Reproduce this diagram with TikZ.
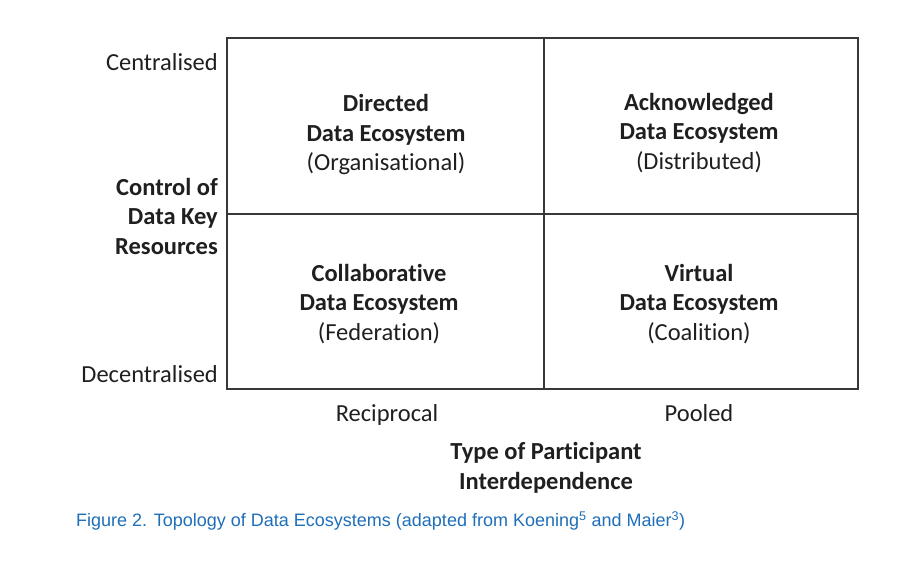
\documentclass[tikz,border=0pt]{standalone}
\usepackage{fontspec}
\setmainfont{Carlito}[Ligatures={NoCommon}]
\newfontfamily\capfont{Liberation Sans}
\begin{document}
\begin{tikzpicture}[x=1pt,y=-1pt,
  every node/.style={inner sep=0pt, text=black!88},
  lbl/.style={font=\fontsize{24.5}{29.5}\selectfont, align=center},
  side/.style={font=\fontsize{24.5}{29.5}\selectfont, anchor=east, align=right},
  grid/.style={draw=black!78, line width=1.3pt},
  caption/.style={font=\capfont\fontsize{18}{22}\selectfont, text={rgb,255:red,30;green,110;blue,185}, anchor=west}]
  \useasboundingbox (0,0) rectangle (920,564);

  % quadrant grid
  \coordinate (tl) at (227,38);
  \coordinate (br) at (858,389);
  \draw[grid] (tl) rectangle (br);
  \draw[grid] (544,38) -- (544,389);
  \draw[grid] (227,214) -- (858,214);

  % quadrant labels
  \node[lbl] (directed) at (386,135) {\textbf{Directed}\\\textbf{Data Ecosystem}\\(Organisational)};
  \node[lbl] (acknowledged) at (699,133) {\textbf{Acknowledged}\\\textbf{Data Ecosystem}\\(Distributed)};
  \node[lbl] (collaborative) at (379,304) {\textbf{Collaborative}\\\textbf{Data Ecosystem}\\(Federation)};
  \node[lbl] (virtual) at (699,304) {\textbf{Virtual}\\\textbf{Data Ecosystem}\\(Coalition)};

  % vertical axis
  \node[side] (central) at (218,62) {Centralised};
  \node[side] (control) at (218,216) {\textbf{Control of}\\\textbf{Data Key}\\\textbf{Resources}};
  \node[side] (decentral) at (218,374) {Decentralised};

  % horizontal axis
  \node[lbl] (reciprocal) at (387,415) {Reciprocal};
  \node[lbl] (pooled) at (699,413) {Pooled};
  \node[lbl] (type) at (546,468) {\textbf{Type of Participant}\\\textbf{Interdependence}};

  % caption
  \node[caption] (cap) at (76,521) {Figure 2. Topology of Data Ecosystems (adapted from Koening\textsuperscript{5} and Maier\textsuperscript{3})};
\end{tikzpicture}
\end{document}
